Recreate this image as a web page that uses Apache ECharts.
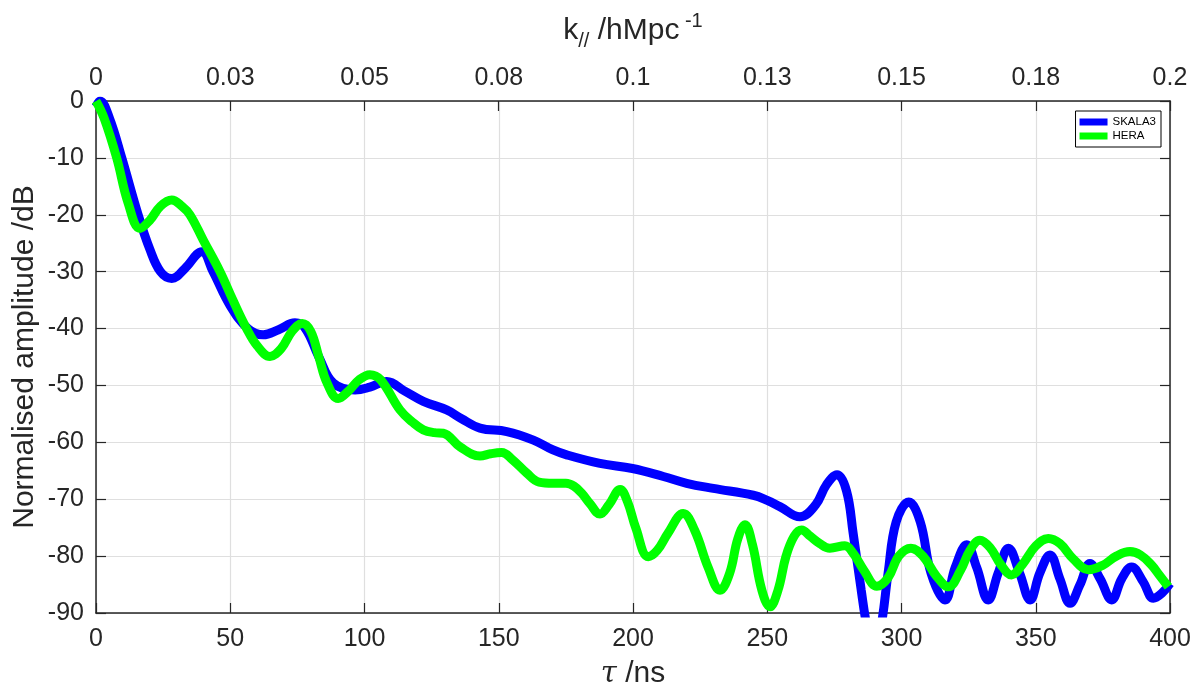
<!DOCTYPE html>
<html>
<head>
<meta charset="utf-8">
<script src="https://cdn.jsdelivr.net/npm/echarts@6/dist/echarts.min.js"></script>
<style>
html,body{margin:0;padding:0;background:#fff;}
#chart{width:1201px;height:689px;}
</style>
</head>
<body>
<div id="chart"></div>
<script>
// ---- data (tau in ns, amplitude in dB) ----
const seriesNames = ['SKALA3', 'HERA'];
const skala3 = [
  [0,-1],[1.5,0],[5,-3],[9.6,-10],[15.7,-20],[20,-26],[24,-30],[28.2,-31.2],[33,-29.5],[39.4,-26.5],
  [43.6,-30],[50,-36],[56.6,-40],[62.3,-41.1],[68,-40.2],[74.1,-39],[78,-40],[83,-45],[88.4,-49.6],
  [96.5,-50.8],[102,-50.3],[108.3,-49.3],[115,-51],[121.9,-52.8],[130.6,-54.3],[136,-55.8],[143,-57.5],
  [153,-58.1],[162.9,-59.6],[170,-61.3],[175.3,-62.2],[187.7,-63.7],[199.8,-64.6],[211.3,-66],[220,-67.2],
  [229.9,-68.1],[244.8,-69.3],[250,-70.2],[254.7,-71.3],[262.2,-73.1],[268,-71],[272,-67.5],[276,-65.7],
  [279.5,-68.5],[282,-76],[285,-86],[287,-92],[289.8,-97],[292.5,-92],[295,-83],[298,-74],[302.7,-70.5],
  [307,-74],[311,-83],[316.2,-87.7],[320,-82],[324.3,-78],[328,-82],[332.3,-87.7],[336,-83],[339.8,-78.6],
  [344,-83],[347.9,-87.7],[351.5,-83],[355.3,-79.8],[359,-84],[362.8,-88.3],[366.5,-85],[370.2,-81.3],
  [374,-84],[378.3,-87.7],[382,-84],[385.7,-81.9],[390,-84.5],[393.8,-87.4],[397,-86.5],[400,-84.8]
];
const hera = [
  [0,0],[3,-3],[7.7,-10],[12,-18],[16.4,-22.4],[20,-21],[24,-18.5],[28.2,-17.4],[32,-18.5],[35,-20],
  [40,-24.5],[46.2,-30],[51,-35],[56.1,-40],[60,-43],[64.8,-44.9],[69,-43.5],[73,-40.5],[76.8,-39.1],
  [80,-40.5],[83,-45],[86,-49.5],[90.2,-52.3],[94,-51],[98,-49],[102,-48.1],[106,-49],[113.2,-54.3],
  [118,-56.5],[121.9,-57.8],[126,-58.3],[129.3,-58.4],[135.6,-60.8],[143,-62.4],[147,-62],[151.1,-61.8],
  [155,-63],[160.4,-65.4],[165,-67],[170.3,-67.2],[175,-67.2],[178,-67.7],[181,-69],[184,-70.8],
  [187.7,-72.6],[191,-71],[195.2,-68.3],[198,-70.5],[201,-75],[205.7,-80.1],[209,-79],[213,-76],
  [218.7,-72.5],[223,-75.5],[228,-82],[232.4,-86],[236,-83],[239,-77],[241.7,-74.5],[244.5,-78],
  [248,-86],[251,-88.9],[254,-86],[257,-80],[260,-76.5],[262.8,-75.4],[266,-76.5],[269.6,-77.8],
  [273.3,-78.6],[278.9,-78.2],[282,-79.5],[286,-82.5],[290.8,-85.3],[295,-83.8],[299,-80],[303.5,-78.6],
  [308,-80],[313,-83.5],[317.5,-85.4],[322,-82.5],[325.5,-79],[329.2,-77.2],[333,-78.5],[337,-81.5],
  [341,-83.3],[345,-81.5],[350,-78.2],[354.7,-76.9],[359,-77.8],[364,-80.5],[369.6,-82.4],[375,-81.6],
  [380,-80],[385.1,-79.2],[389,-79.8],[393,-81.5],[396,-83.3],[399.4,-85.4]
];
const topTickLabels = ['0','0.03','0.05','0.08','0.1','0.13','0.15','0.18','0.2'];

// ---- chart ----
const FONT = '"Liberation Sans", Arial, Helvetica, sans-serif';
const AX = '#262626';
const chart = echarts.init(document.getElementById('chart'), null, {renderer: 'canvas'});
const tickFont = 25;
chart.setOption({
  animation: false,
  backgroundColor: '#fff',
  grid: {left: 96, right: 31, top: 101, bottom: 76, containLabel: false, outerBoundsMode: 'none'},
  legend: {
    orient: 'vertical', right: 40, top: 111,
    data: seriesNames, icon: 'rect', itemWidth: 28, itemHeight: 7, itemGap: 0,
    borderColor: '#000', borderWidth: 1, backgroundColor: '#fff', padding: [4, 5, 4, 4],
    textStyle: {fontFamily: FONT, fontSize: 11.5, color: '#000', lineHeight: 14},
    itemStyle: {borderWidth: 0}
  },
  xAxis: [
    {
      type: 'value', position: 'bottom', min: 0, max: 400, interval: 50,
      axisLine: {show: true, onZero: false, lineStyle: {color: AX, width: 1.5}},
      axisTick: {show: true, inside: true, length: 10, lineStyle: {color: AX, width: 1.2}},
      axisLabel: {fontFamily: FONT, fontSize: tickFont, color: AX, margin: 14},
      splitLine: {show: true, lineStyle: {color: '#dfdfdf', width: 1.2}},
      name: '{t|τ}{r| /ns}', nameLocation: 'middle', nameGap: 46, nameMoveOverlap: false,
      nameTextStyle: {rich: {
        t: {fontFamily: '"DejaVu Serif", "Liberation Serif", serif', fontStyle: 'italic', fontSize: 29, color: AX},
        r: {fontFamily: FONT, fontSize: 30, color: AX}
      }}
    },
    {
      type: 'value', position: 'top', min: 0, max: 0.2, interval: 0.025,
      axisLine: {show: true, onZero: false, lineStyle: {color: AX, width: 1.5}},
      axisTick: {show: true, inside: true, length: 10, lineStyle: {color: AX, width: 1.2}},
      axisLabel: {fontFamily: FONT, fontSize: tickFont, color: AX, margin: 10,
        formatter: v => topTickLabels[Math.round(v / 0.025)]},
      splitLine: {show: false},
      name: '{m|k}{sub|//}{m| /hMpc}{sup| -1}', nameLocation: 'middle', nameGap: 50, nameMoveOverlap: false,
      nameTextStyle: {rich: {
        m: {fontFamily: FONT, fontSize: 30, color: AX, lineHeight: 40, verticalAlign: 'middle'},
        sub: {fontFamily: FONT, fontSize: 20, color: AX, lineHeight: 20, verticalAlign: 'bottom', padding: [14, 0, 0, 0]},
        sup: {fontFamily: FONT, fontSize: 20, color: AX, lineHeight: 20, verticalAlign: 'top', padding: [0, 0, 14, 0]}
      }}
    }
  ],
  yAxis: [
    {
      type: 'value', position: 'left', min: -90, max: 0, interval: 10,
      axisLine: {show: true, onZero: false, lineStyle: {color: AX, width: 1.5}},
      axisTick: {show: true, inside: true, length: 10, lineStyle: {color: AX, width: 1.2}},
      axisLabel: {fontFamily: FONT, fontSize: tickFont, color: AX, margin: 12},
      splitLine: {show: true, lineStyle: {color: '#dfdfdf', width: 1.2}},
      name: 'Normalised amplitude /dB', nameLocation: 'middle', nameGap: 56, nameRotate: 90, nameMoveOverlap: false,
      nameTextStyle: {fontFamily: FONT, fontSize: 30, color: AX}
    },
    {
      type: 'value', position: 'right', min: -90, max: 0, interval: 10,
      axisLine: {show: true, onZero: false, lineStyle: {color: AX, width: 1.5}},
      axisTick: {show: true, inside: true, length: 10, lineStyle: {color: AX, width: 1.2}},
      axisLabel: {show: false},
      splitLine: {show: false}
    }
  ],
  series: [
    {name: seriesNames[0], type: 'line', xAxisIndex: 0, yAxisIndex: 0, data: skala3,
     smooth: 0.4, showSymbol: false, symbol: 'none', clip: true,
     lineStyle: {color: '#0000ff', width: 9}, itemStyle: {color: '#0000ff'}},
    {name: seriesNames[1], type: 'line', xAxisIndex: 0, yAxisIndex: 0, data: hera,
     smooth: 0.4, showSymbol: false, symbol: 'none', clip: true,
     lineStyle: {color: '#00ff00', width: 9}, itemStyle: {color: '#00ff00'}}
  ]
});
</script>
</body>
</html>
